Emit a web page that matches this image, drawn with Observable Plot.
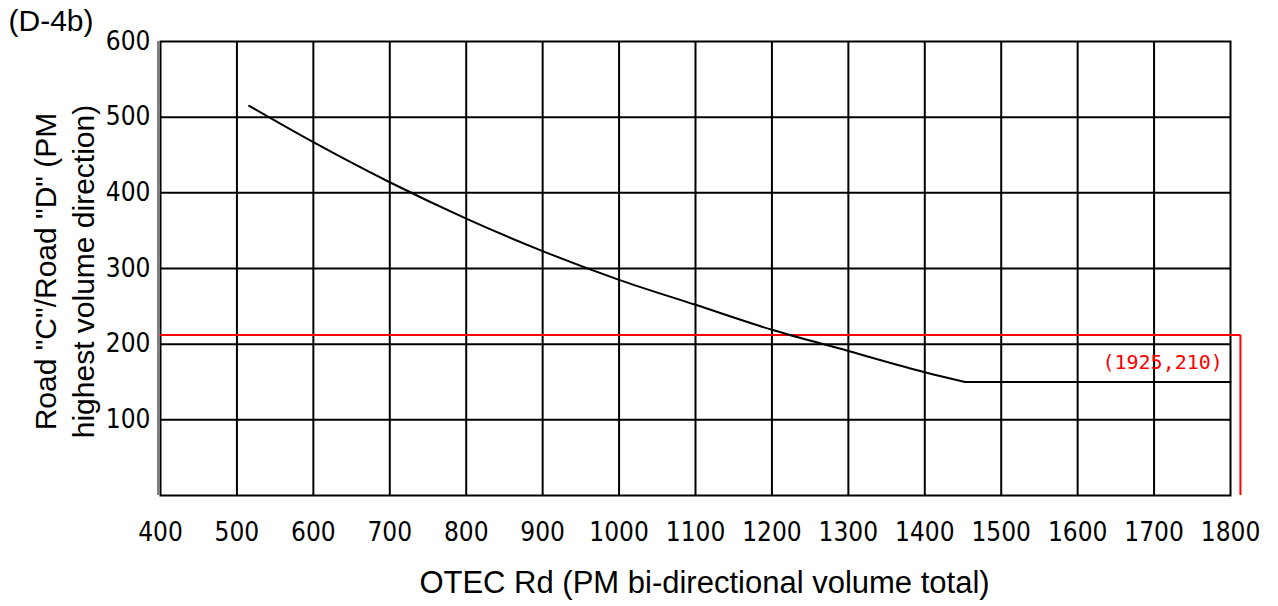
<!DOCTYPE html>
<html>
<head>
<meta charset="utf-8">
<script src="https://cdn.jsdelivr.net/npm/d3@7"></script>
<script src="https://cdn.jsdelivr.net/npm/@observablehq/plot@0.6"></script>
<style>
  html, body { margin: 0; padding: 0; background: #fff; }
  #chart svg { display: block; }
</style>
</head>
<body>
<div id="chart"></div>
<script>
// ---- data ----
const curveX = [516, 600, 700, 800, 900, 1000, 1100, 1200, 1300, 1400, 1453];
const curveY = [515, 467, 414, 366, 323, 285, 252, 219, 191, 163, 150];
const flatX = [1453, 1800];
const flatY = [150, 150];
const xTicks = [400, 500, 600, 700, 800, 900, 1000, 1100, 1200, 1300, 1400, 1500, 1600, 1700, 1800];
const yTicks = [100, 200, 300, 400, 500, 600];
const markerX = [1813];
const markerY = [212];
const markerLabel = ["(1925,210)"];
const labelPosX = [1790];
const labelPosY = [176];
const titleTag = "(D-4b)";
const xTitle = "OTEC Rd (PM bi-directional volume total)";
const yTitleLines = ['Road "C"/Road "D" (PM', "highest volume direction)"];

const curve = curveX.map((x, i) => ({x, y: curveY[i]}));
const flat = flatX.map((x, i) => ({x, y: flatY[i]}));
const tickFont = "'DejaVu Sans Condensed', 'DejaVu Sans', sans-serif";
const textFont = "'Liberation Sans', Arial, sans-serif";

const chart = Plot.plot({
  width: 1278,
  height: 606,
  marginLeft: 160,
  marginRight: 48,
  marginTop: 41,
  marginBottom: 111,
  x: {domain: [400, 1800], axis: null},
  y: {domain: [0, 600], axis: null},
  marks: [
    // grid
    Plot.ruleX(xTicks.slice(1, -1), {y1: 0, y2: 600, stroke: "#000", strokeWidth: 2}),
    Plot.ruleY(yTicks.slice(0, -1), {x1: 400, x2: 1800, stroke: "#000", strokeWidth: 2}),
    Plot.frame({stroke: "#000", strokeWidth: 2}),
    Plot.ruleX([400], {y1: 0, y2: 600, dx: -2.5, stroke: "#000", strokeWidth: 1}),
    // red marker lines
    Plot.ruleY(markerY, {x1: 400, x2: markerX[0], stroke: "#ff0000", strokeWidth: 2}),
    Plot.ruleX(markerX, {y1: 0, y2: markerY[0], stroke: "#ff0000", strokeWidth: 2}),
    Plot.text(markerLabel, {x: labelPosX, y: labelPosY, text: d => d, textAnchor: "end",
      fill: "#ff0000", fontSize: 20, fontFamily: "'DejaVu Sans Mono', monospace"}),
    // curve
    Plot.line(curve, {x: "x", y: "y", curve: "monotone-x", stroke: "#000", strokeWidth: 2}),
    Plot.line(flat, {x: "x", y: "y", stroke: "#000", strokeWidth: 2}),
    // tick labels
    Plot.text(xTicks, {x: d => d, frameAnchor: "bottom", dy: 37, lineAnchor: "middle",
      text: d => String(d), fontSize: 26, fontFamily: tickFont, fill: "#000"}),
    Plot.text(yTicks, {y: d => d, frameAnchor: "left", dx: -10, textAnchor: "end",
      text: d => String(d), fontSize: 26, fontFamily: tickFont, fill: "#000"}),
    // titles
    Plot.text([xTitle], {frameAnchor: "bottom", dx: 9, dy: 88, lineAnchor: "middle", text: d => d,
      fontSize: 31, fontFamily: textFont, fill: "#000"}),
    Plot.text([titleTag], {frameAnchor: "top-left", dx: -152, dy: -20, lineAnchor: "middle", textAnchor: "start",
      text: d => d, fontSize: 30, fontFamily: textFont, fill: "#000"}),
    Plot.text([yTitleLines[0]], {y: () => 296, frameAnchor: "left", dx: -114, rotate: -90,
      textAnchor: "middle", lineAnchor: "middle",
      text: d => d, fontSize: 30, fontFamily: textFont, fill: "#000"}),
    Plot.text([yTitleLines[1]], {y: () => 296, frameAnchor: "left", dx: -76, rotate: -90,
      textAnchor: "middle", lineAnchor: "middle",
      text: d => d, fontSize: 30, fontFamily: textFont, fill: "#000"})
  ]
});
document.getElementById("chart").appendChild(chart);
</script>
</body>
</html>
